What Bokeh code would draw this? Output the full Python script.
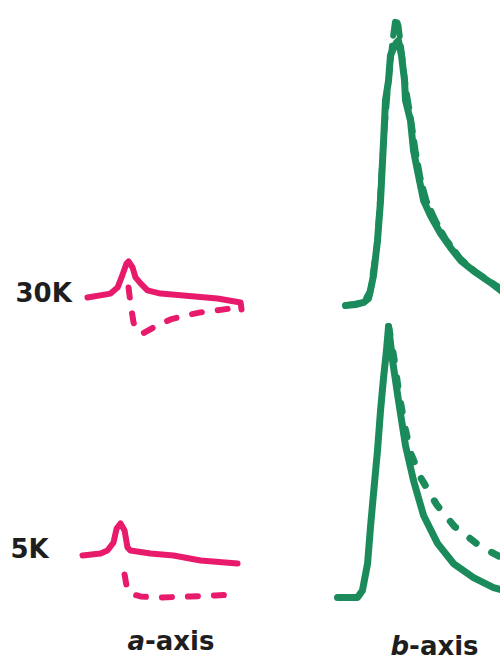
from bokeh.plotting import figure
from bokeh.models import Range1d, Label
from bokeh.embed import file_html
from bokeh.resources import INLINE

# ---------------------------------------------------------------------------
# Spectra: energy in arbitrary units (0-100 across a panel),
# intensity in arbitrary units (b-axis 30K peak ~ 100).
# ---------------------------------------------------------------------------

# a-axis, 30 K
a30_solid_x = [3.1, 17.5, 21.9, 24.4, 27.5, 28.8, 31.3, 33.1, 36.3, 40.6, 48.8, 63.1, 84.4, 98.8, 99.4]
a30_solid_y = [0.0, 1.5, 3.8, 7.7, 13.0, 13.8, 11.5, 7.7, 5.4, 2.7, 1.5, 0.8, -0.4, -1.9, -4.6]
a30_dash_x = [28.8, 30.0, 31.9, 34.4, 37.5, 45.6, 55.0, 64.4, 73.8, 83.1, 92.5, 99.4]
a30_dash_y = [3.8, -2.3, -9.6, -13.0, -13.8, -11.1, -8.4, -6.9, -5.7, -5.0, -4.2, -3.4]

# a-axis, 5 K
a5_solid_x = [0.0, 11.3, 15.6, 19.4, 21.3, 23.8, 26.3, 28.1, 30.0, 42.5, 56.9, 73.8, 96.9]
a5_solid_y = [0.0, 0.8, 1.9, 5.0, 10.3, 12.3, 9.6, 3.1, 1.9, 0.8, 0.0, -1.9, -3.1]
a5_dash_x = [26.3, 27.5, 30.0, 36.3, 48.8, 67.5, 83.1, 96.9]
a5_dash_y = [-7.3, -11.5, -14.6, -15.7, -16.1, -15.7, -15.3, -14.9]

# b-axis, 30 K
b30_solid_x = [5.0, 11.3, 16.3, 19.4, 20.6, 22.5, 25.0, 26.9, 28.8, 30.0, 31.9, 33.1, 35.0,
               36.9, 38.1, 40.0, 41.9, 42.5, 45.6, 47.5, 50.6, 53.8, 58.1, 64.4, 70.6,
               76.9, 86.3, 95.6, 103.8]
b30_solid_y = [-0.4, 0.0, 0.8, 2.3, 5.4, 11.1, 24.5, 39.8, 62.8, 78.2, 85.8, 95.4, 98.1,
               100.4, 101.1, 95.4, 85.8, 78.2, 70.5, 59.0, 49.4, 39.8, 34.1, 27.2, 21.8,
               16.9, 12.3, 8.4, 4.6]
b30_dash_x = [5.0, 16.3, 20.6, 25.0, 28.8, 31.9, 34.4, 36.3, 38.1, 40.0, 42.5, 45.6, 48.8,
              51.9, 55.6, 61.3, 67.5, 76.9, 86.3, 95.6, 103.8]
b30_dash_y = [-0.4, 0.8, 5.4, 24.5, 62.8, 85.8, 101.1, 110.0, 106.9, 97.3, 83.9, 72.4, 59.0,
              48.3, 39.8, 32.2, 25.3, 17.6, 12.6, 8.8, 5.4]

# b-axis, 5 K
b5_solid_x = [0.0, 12.5, 15.6, 18.8, 20.6, 22.5, 25.0, 26.9, 28.8, 30.6, 31.9, 34.4, 38.1,
              42.5, 47.5, 53.8, 62.5, 72.5, 85.0, 97.5, 103.8]
b5_solid_y = [0.4, 0.4, 3.1, 13.4, 27.2, 40.2, 56.7, 72.0, 84.7, 95.0, 104.2, 91.2, 75.9,
              58.6, 45.2, 31.8, 21.1, 13.4, 8.0, 4.2, 3.1]
b5_dash_x = [31.9, 35.0, 38.1, 41.9, 45.6, 51.9, 61.9, 73.1, 89.4, 103.8]
b5_dash_y = [104.2, 93.1, 79.7, 66.3, 55.9, 46.4, 36.0, 27.6, 19.9, 15.3]

# Text
temp_labels = ["30K", "5K"]
axis_letters = ["a", "b"]
axis_suffix = "-axis"

# ---------------------------------------------------------------------------
W, H = 500, 661
PINK = "#e81a6c"
GREEN = "#1b8b5c"
INK = "#1e1e1e"
SX, SY = 1.6, 2.61  # pixels per energy unit / intensity unit

p = figure(width=W, height=H, output_backend="svg", toolbar_location=None,
           x_range=Range1d(0, W), y_range=Range1d(0, H),
           min_border=0, min_border_left=0, min_border_right=0,
           min_border_top=0, min_border_bottom=0)
p.axis.visible = False
p.grid.visible = False
p.outline_line_color = None
p.background_fill_color = "white"
p.border_fill_color = "white"

# panel placement: left edge (px from left), baseline (px from top)
panels = {
    "a30": (82, 297),
    "a5": (82, 555),
    "b30": (337, 304),
    "b5": (337, 598),
}
for name, (left, base) in panels.items():
    p.extra_x_ranges[name] = Range1d(-left / SX, (W - left) / SX)
    p.extra_y_ranges[name] = Range1d(-(H - base) / SY, base / SY)


def trace(name, xs, ys, color, width, dash="solid"):
    p.line(xs, ys, x_range_name=name, y_range_name=name, line_color=color,
           line_width=width, line_dash=dash, line_cap="round", line_join="round")


trace("a30", a30_solid_x, a30_solid_y, PINK, 6)
trace("a30", a30_dash_x, a30_dash_y, PINK, 6, "10 16")
trace("a5", a5_solid_x, a5_solid_y, PINK, 6)
trace("a5", a5_dash_x, a5_dash_y, PINK, 6, "10 16")
trace("b30", b30_dash_x, b30_dash_y, GREEN, 6, "14 10")
trace("b30", b30_solid_x, b30_solid_y, GREEN, 7)
trace("b5", b5_solid_x, b5_solid_y, GREEN, 7)
trace("b5", b5_dash_x, b5_dash_y, GREEN, 7, "8 18")

font = dict(text_font="DejaVu Sans", text_font_size="26px", text_color=INK,
            text_baseline="alphabetic", x_units="screen", y_units="screen")
LIFT = 10  # baseline correction for screen-placed labels

for txt, x, base in zip(temp_labels, [15, 10], [302, 558]):
    p.add_layout(Label(x=x, y=H - base + LIFT, text=txt, text_font_style="bold", **font))

for letter, x, base, w in zip(axis_letters, [127, 390], [650, 655], [17.5, 18.6]):
    p.add_layout(Label(x=x, y=H - base + LIFT, text=letter,
                       text_font_style="bold italic", **font))
    p.add_layout(Label(x=x + w, y=H - base + LIFT, text=axis_suffix,
                       text_font_style="bold", **font))

open("out.html", "w").write(file_html(p, INLINE))
